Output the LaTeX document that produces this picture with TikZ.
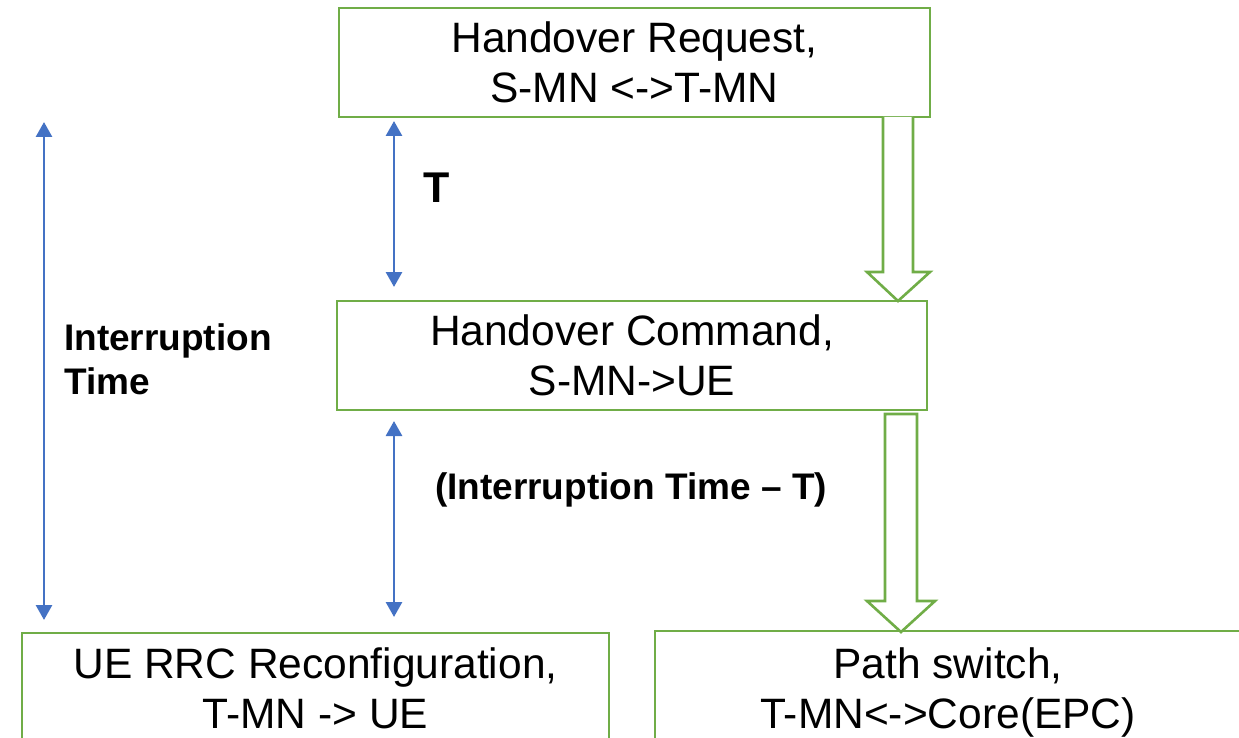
\documentclass[tikz,border=0pt]{standalone}
\usepackage{fontspec}
\setmainfont{Liberation Sans}
\usetikzlibrary{arrows.meta}
\definecolor{boxgreen}{RGB}{112,173,71}
\definecolor{timeblue}{RGB}{68,114,196}
\begin{document}
\begin{tikzpicture}[x=1pt,y=-1pt,
  stepbox/.style={draw=boxgreen, line width=2.6pt, fill=white, rectangle,
    inner sep=0pt, outer sep=0pt, align=center,
    font=\fontsize{42.5}{50}\selectfont},
  boxtext/.style={inner sep=0pt, align=center, font=\fontsize{42.5}{50}\selectfont},
  blockarrow/.style={draw=boxgreen, line width=2.6pt, fill=white, line join=miter},
  timearrow/.style={draw=timeblue, line width=2.8pt,
    {Triangle[width=16pt,length=15pt]}-{Triangle[width=16pt,length=15pt]}},
  timelabel/.style={inner sep=0pt, font=\bfseries\fontsize{37}{44}\selectfont}]
\useasboundingbox (0,0) rectangle (1239,738);
\clip (0,0) rectangle (1239,738);

% process boxes
\node[stepbox, minimum width=591pt, minimum height=109pt] (req) at (634.5,62.5)
  {Handover Request,\\S-MN <->T-MN};
\node[stepbox, minimum width=590pt, minimum height=109pt] (cmd) at (632,355.5)
  {Handover Command,\\S-MN->UE};
\node[stepbox, minimum width=587pt, minimum height=110pt] (rrc) at (315.5,688)
  {UE RRC Reconfiguration,\\T-MN -> UE};
\node[stepbox, minimum width=586pt, minimum height=110pt] (path) at (948,686) {};
\node[boxtext] (pathtext) at (948,692) {Path switch,\\T-MN<->Core(EPC)};

% hollow block arrows between the steps
\draw[blockarrow] (883,117) -- (883,272) -- (867,272) -- (898,301)
  -- (930,272) -- (913,272) -- (913,117);
\draw[blockarrow] (885,414) -- (885,601) -- (867,601) -- (901,632)
  -- (935,601) -- (917,601) -- (917,414) -- cycle;

% time spans
\coordinate (itTop) at (44,122);
\coordinate (itBot) at (44,620);
\coordinate (tTop) at (394,121);
\coordinate (tBot) at (394,287);
\coordinate (restTop) at (394,421);
\coordinate (restBot) at (394,617);
\draw[timearrow] (itTop) -- (itBot);
\draw[timearrow] (tTop) -- (tBot);
\draw[timearrow] (restTop) -- (restBot);

% span labels
\node[timelabel, anchor=west, align=left] (itlabel) at (64,359) {Interruption\\Time};
\node[inner sep=0pt, font=\bfseries\fontsize{43}{50}\selectfont] (tlabel) at (436.5,187.5) {T};
\node[timelabel] (restlabel) at (631,490) {(Interruption Time – T)};
\end{tikzpicture}
\end{document}
